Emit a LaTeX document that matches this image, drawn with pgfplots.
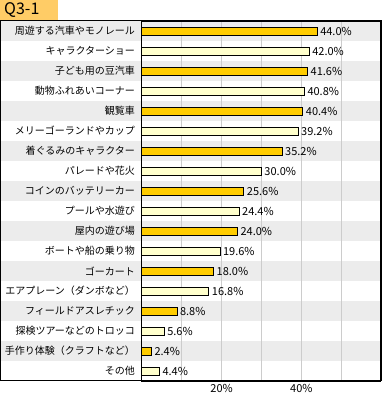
\documentclass[border=0pt]{standalone}
\usepackage{pgfplots}
\pgfplotsset{compat=1.18}
\usepackage{fontspec}
\setmainfont{Noto Sans CJK JP}
\definecolor{barA}{RGB}{255,204,0}
\definecolor{barB}{RGB}{255,255,204}
\definecolor{band}{RGB}{236,236,236}
\definecolor{gridc}{RGB}{204,204,204}
\definecolor{titlebg}{RGB}{255,204,102}
\begin{document}
\begin{tikzpicture}[x=1pt,y=1pt]
\useasboundingbox (0,0) rectangle (382,397);
\fill[titlebg] (0,376) rectangle (58,397);
\node[anchor=west,inner sep=0pt,font=\fontsize{16}{16}\selectfont] at (4,386.5) {Q3-1};
\foreach \i in {0,2,...,16} {
  \fill[band] (0,356-20*\i) rectangle (381,376-20*\i);
}
\begin{axis}[
  at={(142pt,16pt)}, anchor=south west,
  width=239pt, height=360pt, scale only axis,
  xbar, bar width=8pt, bar shift=0pt,
  xmin=0, xmax=60, ymin=-0.5, ymax=17.5, y dir=reverse,
  xtick={0,10,20,30,40,50}, xticklabels={,,20\%,,40\%,},
  xmajorgrids, grid style={gridc, line width=1pt},
  major tick length=0pt,
  ytick={0,...,17},
  yticklabels={周遊する汽車やモノレール,キャラクターショー,子ども用の豆汽車,動物ふれあいコーナー,観覧車,メリーゴーランドやカップ,着ぐるみのキャラクター,パレードや花火,コインのバッテリーカー,プールや水遊び,屋内の遊び場,ボートや船の乗り物,ゴーカート,エアプレーン（ダンボなど）,フィールドアスレチック,探検ツアーなどのトロッコ,手作り体験（クラフトなど）,その他},
  yticklabel style={font=\fontsize{10}{10}\selectfont, anchor=east, xshift=-3.5pt},
  xticklabel style={font=\fontsize{11}{11}\selectfont},
  axis line style={black, line width=1pt},
  clip=false,
  /pgf/number format/assume math mode=true,
  nodes near coords={\pgfmathprintnumber[fixed,fixed zerofill,precision=1,assume math mode=true]{\pgfplotspointmeta}\%},
  nodes near coords style={font=\fontsize{11}{11}\selectfont, black, inner sep=2.5pt},
]
\addplot[draw=black, line width=1pt, fill=barA] coordinates {
(44.0,0) (41.6,2) (40.4,4) (35.2,6) (25.6,8) (24.0,10) (18.0,12) (8.8,14) (2.4,16)};
\addplot[draw=black, line width=1pt, fill=barB] coordinates {
(42.0,1) (40.8,3) (39.2,5) (30.0,7) (24.4,9) (19.6,11) (16.8,13) (5.6,15) (4.4,17)};
\end{axis}
\draw[black, line width=1pt] (0.5,16) rectangle (381,376);
\end{tikzpicture}
\end{document}
